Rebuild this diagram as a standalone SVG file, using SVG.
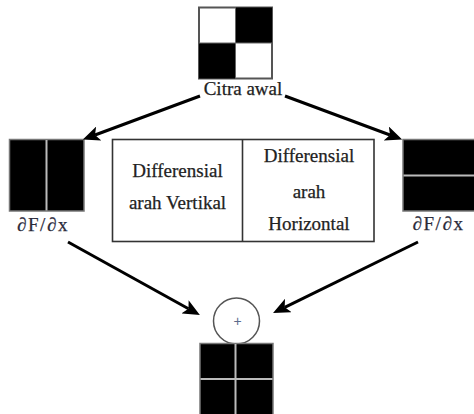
<svg xmlns="http://www.w3.org/2000/svg" width="474" height="414" viewBox="0 0 474 414">
<style>
.t{font-family:"Liberation Serif","Times New Roman",serif;font-size:19px;fill:#222;stroke:#222;stroke-width:0.25;text-anchor:middle}
.d{font-family:"Liberation Serif","Times New Roman",serif;font-size:19px;fill:#2a2a3a;stroke:#2a2a3a;stroke-width:0.25;letter-spacing:1.6px;text-anchor:middle}
.blk{fill:#000;stroke:#777;stroke-width:1.5}
.div{stroke:#bbb;stroke-width:2}
.box{fill:#fff;stroke:#333;stroke-width:1.6}
.arr{stroke:#000;stroke-width:3;fill:none;marker-end:url(#ah)}
</style>
<defs>
<marker id="ah" markerUnits="userSpaceOnUse" markerWidth="17" markerHeight="15" refX="4" refY="7.5" orient="auto">
<path d="M0,0 L17,7.5 L0,15 L4,7.5 z" fill="#000"/>
</marker>
</defs>
<rect width="474" height="414" fill="#fff"/>
<g id="citra-awal">
<rect x="199" y="7.5" width="73" height="71" fill="#fff" stroke="#555" stroke-width="2"/>
<rect x="235.5" y="7.5" width="36.5" height="35.5" fill="#000"/>
<rect x="199" y="43" width="36.5" height="35.5" fill="#000"/>
<line x1="235.5" y1="7.5" x2="235.5" y2="78.5" stroke="#666" stroke-width="1"/>
<line x1="199" y1="43" x2="272" y2="43" stroke="#666" stroke-width="1"/>
<text class="t" x="243" y="95">Citra awal</text>
</g>
<g id="vertikal">
<rect class="blk" x="9.5" y="139.5" width="74.5" height="71.5"/>
<line class="div" x1="46.5" y1="140" x2="46.5" y2="210.5"/>
<text class="d" x="43" y="231">∂F/∂x</text>
</g>
<g id="horizontal">
<rect class="blk" x="403" y="139.5" width="76" height="71.5"/>
<line class="div" x1="403.5" y1="175.5" x2="474" y2="175.5"/>
<text class="d" x="438.5" y="230">∂F/∂x</text>
</g>
<g id="keterangan">
<rect class="box" x="112.5" y="139.5" width="261.5" height="102"/>
<line x1="242.5" y1="139.5" x2="242.5" y2="241.5" stroke="#333" stroke-width="1.6"/>
<text class="t" x="177.5" y="177">Differensial</text>
<text class="t" x="177.5" y="209">arah Vertikal</text>
<text class="t" x="309" y="162">Differensial</text>
<text class="t" x="309" y="198">arah</text>
<text class="t" x="309" y="229.5">Horizontal</text>
</g>
<g id="penjumlahan">
<circle cx="236.5" cy="321" r="23" fill="#fff" stroke="#555" stroke-width="1.5"/>
<text x="237.5" y="326" font-family="Liberation Sans, Arial, sans-serif" font-size="14" fill="#5b6b8c" text-anchor="middle">+</text>
</g>
<g id="hasil">
<rect class="blk" x="200" y="343.5" width="73" height="72"/>
<line class="div" x1="235.5" y1="344" x2="235.5" y2="414"/>
<line class="div" x1="200.5" y1="379" x2="272.5" y2="379"/>
</g>
<g id="connectors">
<line class="arr" x1="200" y1="96" x2="95" y2="135"/>
<line class="arr" x1="285" y1="96" x2="390" y2="135"/>
<line class="arr" x1="68" y1="242" x2="188.5" y2="308.7"/>
<line class="arr" x1="418" y1="242" x2="284.7" y2="307.3"/>
</g>
</svg>
